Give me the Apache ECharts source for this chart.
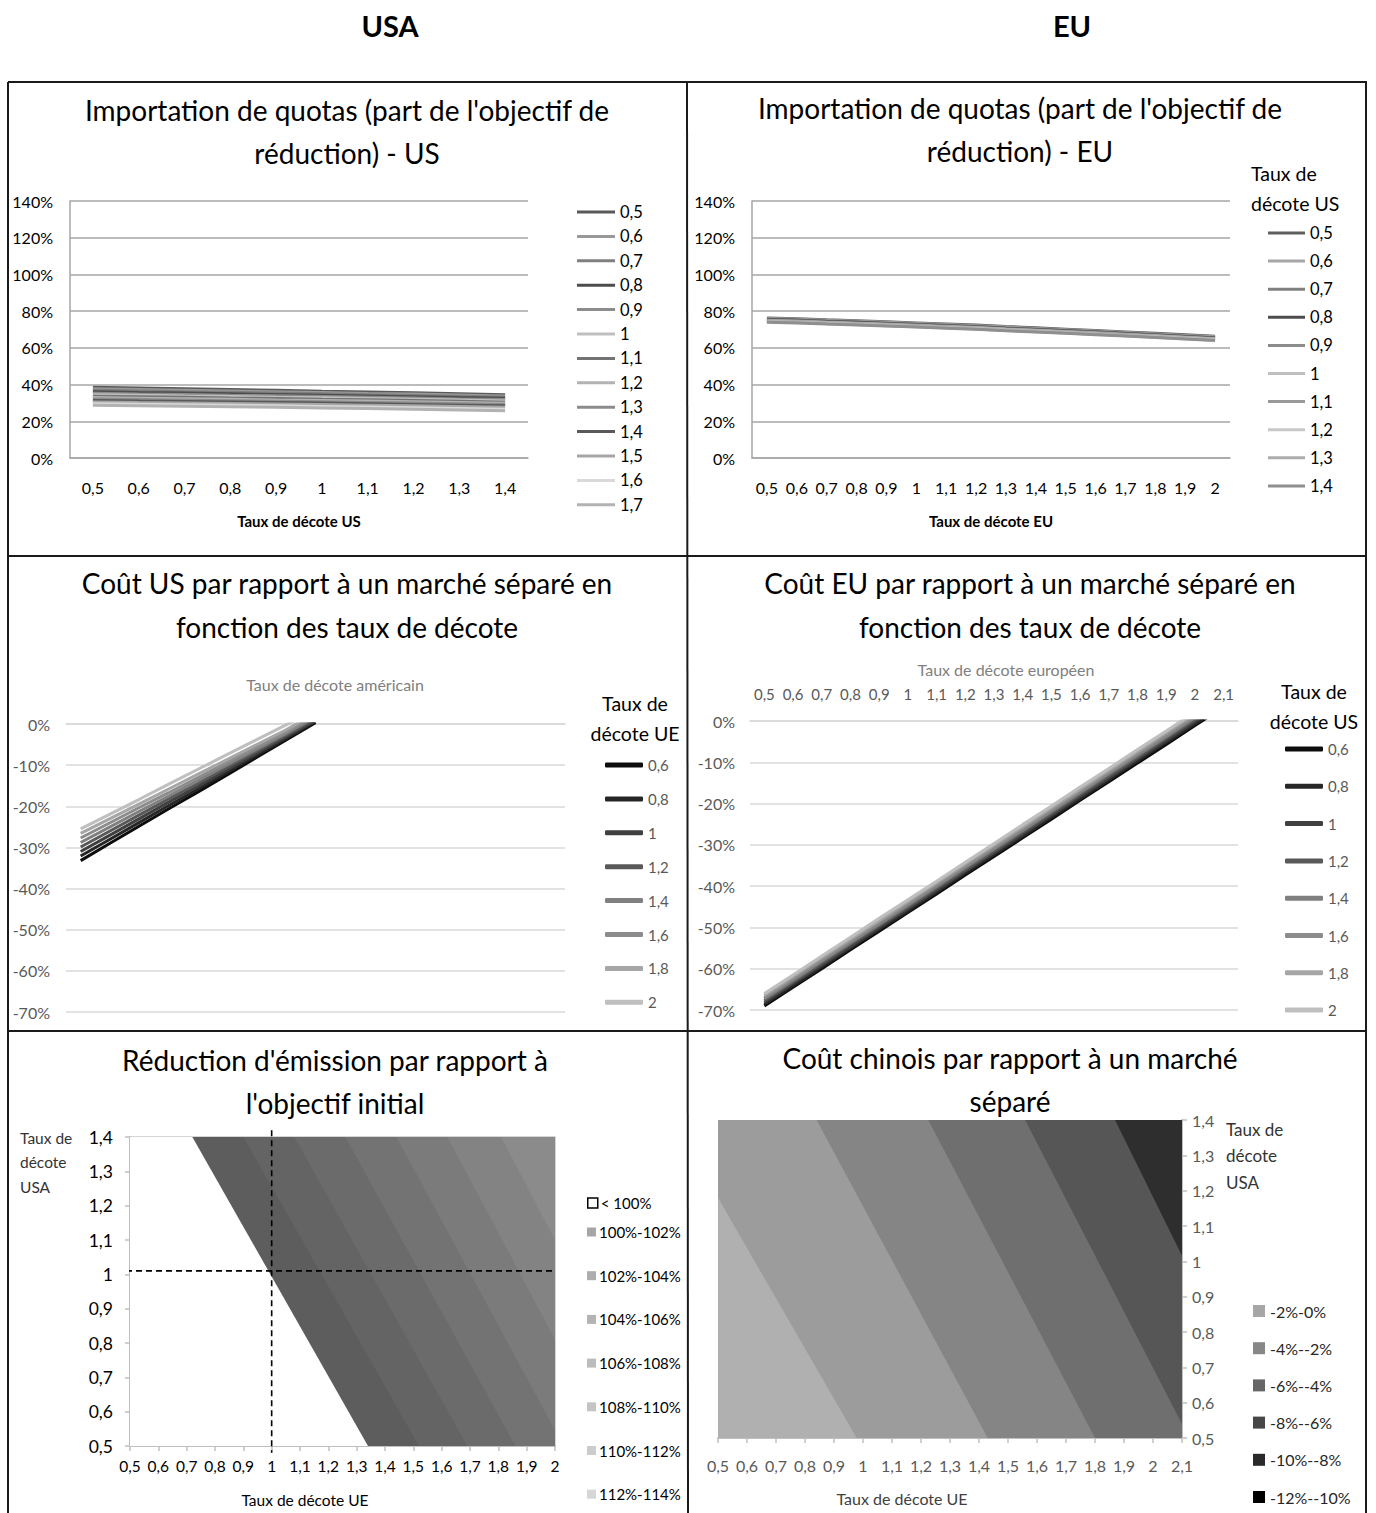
<!DOCTYPE html>
<html><head><meta charset="utf-8">
<script src="https://cdn.jsdelivr.net/npm/echarts@6/dist/echarts.min.js"></script>
<style>html,body{margin:0;padding:0;background:#fff}#c{width:1376px;height:1513px}</style>
</head><body><div id="c"></div>
<script>
const FONT = 'Lato, "Liberation Sans", sans-serif';

// ---------- Panel 1 : Importation de quotas - US ----------
const quotaUsRates = ['0,5','0,6','0,7','0,8','0,9','1','1,1','1,2','1,3','1,4'];
const quotaUsLegend = ['0,5','0,6','0,7','0,8','0,9','1','1,1','1,2','1,3','1,4','1,5','1,6','1,7'];
const quotaUsColors = ['#595959','#999999','#7f7f7f','#4d4d4d','#8c8c8c','#bfbfbf','#737373','#b2b2b2','#8c8c8c','#595959','#a6a6a6','#d9d9d9','#b2b2b2'];
const quotaUsValues = [
  [38.5,38.1,37.7,37.3,36.9,36.4,36.0,35.5,35.0,34.4],
  [37.7,37.3,36.9,36.5,36.1,35.7,35.2,34.8,34.3,33.8],
  [36.9,36.5,36.1,35.8,35.4,35.0,34.5,34.1,33.6,33.1],
  [36.1,35.7,35.4,35.0,34.6,34.2,33.8,33.4,32.9,32.5],
  [35.3,34.9,34.6,34.2,33.9,33.5,33.1,32.7,32.2,31.8],
  [34.5,34.2,33.8,33.5,33.1,32.8,32.4,32.0,31.6,31.1],
  [33.7,33.4,33.1,32.7,32.4,32.0,31.7,31.3,30.9,30.4],
  [32.9,32.6,32.3,32.0,31.6,31.3,31.0,30.6,30.2,29.8],
  [32.1,31.8,31.5,31.2,30.9,30.6,30.3,29.9,29.5,29.1],
  [31.3,31.0,30.8,30.5,30.2,29.9,29.6,29.2,28.8,28.4],
  [30.5,30.2,30.0,29.7,29.4,29.1,28.8,28.5,28.1,27.7],
  [29.6,29.3,29.0,28.7,28.4,28.1,27.8,27.4,27.0,26.6],
  [28.8,28.5,28.2,27.9,27.6,27.3,27.0,26.6,26.2,25.8]
];

// ---------- Panel 2 : Importation de quotas - EU ----------
const quotaEuRates = ['0,5','0,6','0,7','0,8','0,9','1','1,1','1,2','1,3','1,4','1,5','1,6','1,7','1,8','1,9','2'];
const quotaEuLegend = ['0,5','0,6','0,7','0,8','0,9','1','1,1','1,2','1,3','1,4'];
const quotaEuColors = ['#5f5f5f','#a6a6a6','#808080','#4d4d4d','#8c8c8c','#bfbfbf','#999999','#c8c8c8','#acacac','#8f8f8f'];
const quotaEuValues = [
  [76.3,75.9,75.3,74.8,74.2,73.6,73.0,72.4,71.6,70.9,70.2,69.5,68.7,67.9,67.1,66.3],
  [76.0,75.6,75.0,74.5,73.9,73.3,72.7,72.1,71.3,70.6,69.9,69.2,68.4,67.6,66.8,66.0],
  [75.7,75.3,74.7,74.2,73.6,73.0,72.4,71.8,71.0,70.3,69.6,68.9,68.1,67.3,66.5,65.7],
  [75.4,75.0,74.4,73.9,73.3,72.7,72.1,71.5,70.7,70.0,69.3,68.6,67.8,67.0,66.2,65.4],
  [75.1,74.7,74.1,73.6,73.0,72.4,71.8,71.2,70.4,69.7,69.0,68.3,67.5,66.7,65.9,65.1],
  [74.8,74.4,73.8,73.3,72.7,72.1,71.5,70.9,70.1,69.4,68.7,68.0,67.2,66.4,65.6,64.8],
  [74.6,74.2,73.6,73.1,72.5,71.9,71.3,70.7,69.9,69.2,68.5,67.8,67.0,66.2,65.4,64.6],
  [74.4,74.0,73.4,72.9,72.3,71.7,71.1,70.5,69.7,69.0,68.3,67.6,66.8,66.0,65.2,64.4],
  [74.2,73.8,73.2,72.7,72.1,71.5,70.9,70.3,69.5,68.8,68.1,67.4,66.6,65.8,65.0,64.2],
  [74.0,73.6,73.0,72.5,71.9,71.3,70.7,70.1,69.3,68.6,67.9,67.2,66.4,65.6,64.8,64.0]
];

// ---------- Panels 3 & 4 : Coût par rapport à un marché séparé ----------
const costRates = ['0,5','0,6','0,7','0,8','0,9','1','1,1','1,2','1,3','1,4','1,5','1,6','1,7','1,8','1,9','2','2,1'];
const costUsLegend = ['0,6','0,8','1','1,2','1,4','1,6','1,8','2'];
const costUsColors = ['#0d0d0d','#262626','#404040','#595959','#808080','#8c8c8c','#a6a6a6','#bfbfbf'];
const costUsValues = [
  [-33.2,-29.0,-24.8,-20.6,-16.5,-12.3,-8.1,-3.9,0.3],
  [-32.1,-28.0,-23.9,-19.8,-15.8,-11.7,-7.6,-3.5,0.6],
  [-31.0,-27.0,-23.0,-19.0,-15.1,-11.1,-7.1,-3.1,0.9],
  [-29.9,-26.0,-22.1,-18.2,-14.4,-10.5,-6.6,-2.7,1.3],
  [-28.8,-25.0,-21.2,-17.5,-13.7,-9.9,-6.1,-2.3,1.7],
  [-27.7,-24.0,-20.3,-16.7,-13.0,-9.3,-5.6,-1.9,2.2],
  [-26.6,-23.0,-19.4,-15.8,-12.2,-8.6,-5.0,-1.4,2.7],
  [-25.5,-21.9,-18.3,-14.6,-11.0,-7.4,-3.8,-0.2,3.4]
];
const costEuLegend = ['0,6','0,8','1','1,2','1,4','1,6','1,8','2'];
const costEuColors = ['#0d0d0d','#262626','#404040','#595959','#7f7f7f','#8c8c8c','#a6a6a6','#bfbfbf'];
const costEuValues = [
  [-69.0,-64.5,-60.0,-55.4,-50.9,-46.4,-41.9,-37.3,-32.8,-28.3,-23.8,-19.2,-14.7,-10.2,-5.7,-1.1,3.4],
  [-68.6,-64.1,-59.6,-55.0,-50.5,-46.0,-41.5,-36.9,-32.4,-27.9,-23.3,-18.8,-14.3,-9.7,-5.2,-0.7,3.9],
  [-68.1,-63.6,-59.1,-54.6,-50.0,-45.5,-41.0,-36.4,-31.9,-27.4,-22.8,-18.3,-13.8,-9.2,-4.7,-0.2,4.4],
  [-67.7,-63.2,-58.7,-54.1,-49.6,-45.1,-40.5,-36.0,-31.5,-26.9,-22.4,-17.8,-13.3,-8.8,-4.2,0.3,4.9],
  [-67.3,-62.8,-58.2,-53.7,-49.2,-44.6,-40.1,-35.5,-31.0,-26.5,-21.9,-17.4,-12.8,-8.3,-3.8,0.8,5.3],
  [-66.9,-62.3,-57.8,-53.3,-48.7,-44.2,-39.6,-35.1,-30.6,-26.0,-21.5,-16.9,-12.4,-7.8,-3.3,1.2,5.8],
  [-66.4,-61.9,-57.3,-52.8,-48.3,-43.7,-39.2,-34.6,-30.1,-25.6,-21.0,-16.5,-11.9,-7.4,-2.8,1.7,6.2],
  [-66.0,-61.5,-56.9,-52.4,-47.8,-43.3,-38.8,-34.2,-29.7,-25.1,-20.6,-16.0,-11.5,-6.9,-2.4,2.2,6.7]
];

// ---------- Panel 5 : Réduction d'émission (contour bands) ----------
// each band = region right of a boundary line running from (edgeTop, y=1.4) to (edgeBottom, y=0.5)
const reductionBands = ['< 100%','100%-102%','102%-104%','104%-106%','106%-108%','108%-110%','110%-112%','112%-114%'];
const reductionEdgeTop = [0.5, 0.72, 0.90, 1.08, 1.26, 1.44, 1.62, 1.81];
const reductionEdgeBottom = [0.5, 1.34, 1.52, 1.69, 1.86, 2.03, 2.20, 2.38];
const reductionPlotColors = ['#ffffff','#5d5d5d','#646464','#6b6b6b','#737373','#7b7b7b','#838383','#8b8b8b'];
const reductionLegendColors = ['#ffffff','#a6a6a6','#adadad','#b4b4b4','#bcbcbc','#c4c4c4','#cccccc','#d6d6d6'];
const refLineV = [[1, 1.42], [1, 0.48]];
const refLineH = [[0.38, 1.01], [2, 1.01]];

// ---------- Panel 6 : Coût chinois (contour bands) ----------
const chinaBands = ['-2%-0%','-4%--2%','-6%--4%','-8%--6%','-10%--8%','-12%--10%'];
const chinaEdgeTop = [0.5, 0.345, 0.84, 1.225, 1.559, 1.869];
const chinaEdgeBottom = [0.5, 0.978, 1.43, 1.80, 2.125, 2.41];
const chinaPlotColors = ['#b0b0b0','#9c9c9c','#858585','#6f6f6f','#565656','#2e2e2e'];
const chinaLegendColors = ['#a6a6a6','#878787','#666666','#474747','#2a2a2a','#000000'];

// ---------- helpers ----------
const lerpX = (a, b, x) => { const t = (x - a[0]) / (b[0] - a[0]); return [x, a[1] + t * (b[1] - a[1])]; };
const lerpY = (a, b, y) => { const t = (y - a[1]) / (b[1] - a[1]); return [a[0] + t * (b[0] - a[0]), y]; };
function clipPoly(pts, x0, x1, y0, y1) {
  const planes = [
    [p => p[0] >= x0 - 1e-9, (a, b) => lerpX(a, b, x0)],
    [p => p[0] <= x1 + 1e-9, (a, b) => lerpX(a, b, x1)],
    [p => p[1] >= y0 - 1e-9, (a, b) => lerpY(a, b, y0)],
    [p => p[1] <= y1 + 1e-9, (a, b) => lerpY(a, b, y1)]
  ];
  for (const [inside, inter] of planes) {
    const out = [];
    for (let i = 0; i < pts.length; i++) {
      const cur = pts[i], prev = pts[(i + pts.length - 1) % pts.length];
      const ci = inside(cur), pi = inside(prev);
      if (ci) { if (!pi) out.push(inter(prev, cur)); out.push(cur); }
      else if (pi) out.push(inter(prev, cur));
    }
    pts = out;
    if (!pts.length) break;
  }
  return pts;
}
function bandRenderer(xMin, xMax, yMin, yMax) {
  return function (params, api) {
    const xt = api.value(0), xb = api.value(1);
    const big = xMax + 10;
    const pts = clipPoly([[xt, yMax], [big, yMax], [big, yMin], [xb, yMin]], xMin, xMax, yMin, yMax);
    if (pts.length < 3) return null;
    return { type: 'polygon', silent: true, shape: { points: pts.map(p => api.coord(p)) }, style: { fill: api.visual('color') } };
  };
}
const comma = v => String(Math.round(v * 10) / 10).replace('.', ',');
const strip = n => n.split('|')[1];

// ---------- series ----------
const series = [];
quotaUsValues.forEach((row, i) => series.push({
  type: 'line', name: 'qu|' + quotaUsLegend[i], xAxisIndex: 0, yAxisIndex: 0, data: row,
  color: quotaUsColors[i], lineStyle: { width: 3, color: quotaUsColors[i] }, symbol: 'none', silent: true
}));
quotaEuValues.forEach((row, i) => series.push({
  type: 'line', name: 'qe|' + quotaEuLegend[i], xAxisIndex: 1, yAxisIndex: 1, data: row,
  color: quotaEuColors[i], lineStyle: { width: 3, color: quotaEuColors[i] }, symbol: 'none', silent: true
}));
costUsValues.forEach((row, i) => series.push({
  type: 'line', name: 'cu|' + costUsLegend[i], xAxisIndex: 2, yAxisIndex: 2, data: row,
  color: costUsColors[i], lineStyle: { width: 3, color: costUsColors[i] }, symbol: 'none', silent: true, clip: true
}));
costEuValues.forEach((row, i) => series.push({
  type: 'line', name: 'ce|' + costEuLegend[i], xAxisIndex: 4, yAxisIndex: 3, data: row,
  color: costEuColors[i], lineStyle: { width: 3, color: costEuColors[i] }, symbol: 'none', silent: true, clip: true
}));
reductionBands.forEach((n, i) => series.push({
  type: 'custom', name: 'rd|' + n, xAxisIndex: 6, yAxisIndex: 4, z: 2,
  color: reductionPlotColors[i], renderItem: bandRenderer(0.5, 2, 0.5, 1.4),
  data: [[reductionEdgeTop[i], reductionEdgeBottom[i]]], encode: { x: 0, y: 1 }, silent: true
}));
series.push({ type: 'line', xAxisIndex: 6, yAxisIndex: 4, data: refLineV, clip: false, symbol: 'none', z: 10, silent: true,
  lineStyle: { color: '#000', width: 1.6, type: [6, 4] } });
series.push({ type: 'line', xAxisIndex: 6, yAxisIndex: 4, data: refLineH, clip: false, symbol: 'none', z: 10, silent: true,
  lineStyle: { color: '#000', width: 1.6, type: [6, 4] } });
chinaBands.forEach((n, i) => series.push({
  type: 'custom', name: 'cn|' + n, xAxisIndex: 7, yAxisIndex: 5, z: 2,
  color: chinaPlotColors[i], renderItem: bandRenderer(0.5, 2.1, 0.5, 1.4),
  data: [[chinaEdgeTop[i], chinaEdgeBottom[i]]], encode: { x: 0, y: 1 }, silent: true
}));

// ---------- axes ----------
const lbl = (size, color, margin, extra) => Object.assign({ fontSize: size, color: color, margin: margin, fontFamily: FONT }, extra || {});
const gridBase = { outerBoundsMode: 'none', containLabel: false };
const grids = [
  Object.assign({ left: 70, top: 201, width: 458, height: 257 }, gridBase),
  Object.assign({ left: 752, top: 201, width: 478, height: 257 }, gridBase),
  Object.assign({ left: 66, top: 724, width: 499, height: 288 }, gridBase),
  Object.assign({ left: 750, top: 721, width: 488, height: 289 }, gridBase),
  Object.assign({ left: 130, top: 1137, width: 425, height: 309, show: true, borderColor: '#c8c8c8', borderWidth: 1.5, backgroundColor: '#fff' }, gridBase),
  Object.assign({ left: 718, top: 1120, width: 464, height: 318 }, gridBase)
];
const quotaXName = (name) => ({ name: name, nameLocation: 'middle', nameGap: 55,
  nameTextStyle: { fontSize: 15, fontWeight: 'bold', color: '#000', fontFamily: FONT } });
const xAxes = [
  Object.assign({ gridIndex: 0, type: 'category', data: quotaUsRates, boundaryGap: true,
    axisLine: { lineStyle: { color: '#a6a6a6', width: 1.5 } }, axisTick: { show: false },
    axisLabel: lbl(16, '#000', 21) }, quotaXName('Taux de décote US')),
  Object.assign({ gridIndex: 1, type: 'category', data: quotaEuRates, boundaryGap: true,
    axisLine: { lineStyle: { color: '#a6a6a6', width: 1.5 } }, axisTick: { show: false },
    axisLabel: lbl(16, '#000', 21, { interval: 0 }) }, quotaXName('Taux de décote EU')),
  { gridIndex: 2, type: 'category', data: costRates, position: 'top', boundaryGap: true,
    axisLine: { lineStyle: { color: '#d9d9d9', width: 1.5 } },
    axisTick: { length: 6, lineStyle: { color: '#d9d9d9', width: 1.5 } }, axisLabel: { show: false },
    name: 'Taux de décote américain', nameLocation: 'middle', nameGap: 32,
    nameTextStyle: { fontSize: 16, color: '#808080', fontFamily: FONT, padding: [0, 0, 0, 39] } },
  { gridIndex: 2, type: 'category', data: costRates, position: 'top', boundaryGap: true,
    axisLine: { show: false }, axisTick: { inside: true, length: 6, lineStyle: { color: '#d9d9d9', width: 1.5 } },
    axisLabel: { show: false } },
  { gridIndex: 3, type: 'category', data: costRates, position: 'top', boundaryGap: true,
    axisLine: { lineStyle: { color: '#d9d9d9', width: 1.5 } },
    axisTick: { length: 6, lineStyle: { color: '#d9d9d9', width: 1.5 } },
    axisLabel: lbl(15, '#595959', 20, { interval: 0 }),
    name: 'Taux de décote européen', nameLocation: 'middle', nameGap: 44,
    nameTextStyle: { fontSize: 16, color: '#808080', fontFamily: FONT, padding: [0, 0, 0, 24] } },
  { gridIndex: 3, type: 'category', data: costRates, position: 'top', boundaryGap: true,
    axisLine: { show: false }, axisTick: { inside: true, length: 6, lineStyle: { color: '#d9d9d9', width: 1.5 } },
    axisLabel: { show: false } },
  { gridIndex: 4, type: 'value', min: 0.5, max: 2, interval: 0.1,
    axisLine: { lineStyle: { color: '#bfbfbf', width: 2 } },
    axisTick: { length: 5, lineStyle: { color: '#bfbfbf', width: 1.5 } },
    axisLabel: lbl(15.5, '#000', 12, { formatter: comma, showMinLabel: true, showMaxLabel: true }), splitLine: { show: false },
    name: 'Taux de décote UE', nameLocation: 'middle', nameGap: 46,
    nameTextStyle: { fontSize: 15.5, color: '#000', fontFamily: FONT, padding: [0, 75, 0, 0] } },
  { gridIndex: 5, type: 'value', min: 0.5, max: 2.1, interval: 0.1,
    axisLine: { lineStyle: { color: '#bfbfbf', width: 2 } },
    axisTick: { length: 5, lineStyle: { color: '#bfbfbf', width: 1.5 } },
    axisLabel: lbl(16, '#595959', 19, { formatter: comma, showMinLabel: true, showMaxLabel: true }), splitLine: { show: false },
    name: 'Taux de décote UE', nameLocation: 'middle', nameGap: 52,
    nameTextStyle: { fontSize: 16, color: '#404040', fontFamily: FONT, padding: [0, 96, 0, 0] } }
];
const yAxes = [
  { gridIndex: 0, type: 'value', min: 0, max: 140, interval: 20,
    axisLine: { show: true, lineStyle: { color: '#a6a6a6', width: 1.5 } }, axisTick: { show: false },
    splitLine: { lineStyle: { color: '#a6a6a6', width: 1.5 } }, axisLabel: lbl(16, '#000', 17, { formatter: '{value}%' }) },
  { gridIndex: 1, type: 'value', min: 0, max: 140, interval: 20,
    axisLine: { show: true, lineStyle: { color: '#a6a6a6', width: 1.5 } }, axisTick: { show: false },
    splitLine: { lineStyle: { color: '#a6a6a6', width: 1.5 } }, axisLabel: lbl(16, '#000', 17, { formatter: '{value}%' }) },
  { gridIndex: 2, type: 'value', min: -70, max: 0, interval: 10,
    axisLine: { show: false }, axisTick: { show: false },
    splitLine: { lineStyle: { color: '#d9d9d9', width: 1.5 } }, axisLabel: lbl(16, '#595959', 16, { formatter: '{value}%' }) },
  { gridIndex: 3, type: 'value', min: -70, max: 0, interval: 10,
    axisLine: { show: false }, axisTick: { show: false },
    splitLine: { lineStyle: { color: '#d9d9d9', width: 1.5 } }, axisLabel: lbl(16, '#595959', 15, { formatter: '{value}%' }) },
  { gridIndex: 4, type: 'value', min: 0.5, max: 1.4, interval: 0.1,
    axisLine: { show: true, lineStyle: { color: '#bfbfbf', width: 2 } },
    axisTick: { show: true, length: 5, lineStyle: { color: '#bfbfbf', width: 1.5 } }, splitLine: { show: false },
    axisLabel: lbl(17.5, '#000', 17, { formatter: comma, showMinLabel: true, showMaxLabel: true }) },
  { gridIndex: 5, type: 'value', position: 'right', min: 0.5, max: 1.4, interval: 0.1,
    axisLine: { show: true, lineStyle: { color: '#bfbfbf', width: 2 } },
    axisTick: { show: true, length: 5, lineStyle: { color: '#bfbfbf', width: 1.5 } }, splitLine: { show: false },
    axisLabel: lbl(16, '#595959', 10, { formatter: comma, showMinLabel: true, showMaxLabel: true }) }
];

// ---------- legends ----------
const legendBase = { orient: 'vertical', padding: 0, selectedMode: false, formatter: strip, icon: 'rect' };
const legends = [
  Object.assign({ left: 577, top: 203.5, itemWidth: 38, itemHeight: 3, itemGap: 7.4,
    data: quotaUsLegend.map((n, i) => ({ name: 'qu|' + n, itemStyle: { color: quotaUsColors[i] } })),
    textStyle: { fontSize: 16.5, lineHeight: 16, color: '#000', fontFamily: FONT } }, legendBase),
  Object.assign({ left: 1268, top: 224.5, itemWidth: 37, itemHeight: 3, itemGap: 11.1,
    data: quotaEuLegend.map((n, i) => ({ name: 'qe|' + n, itemStyle: { color: quotaEuColors[i] } })),
    textStyle: { fontSize: 16.5, lineHeight: 16, color: '#000', fontFamily: FONT } }, legendBase),
  Object.assign({ left: 605, top: 757, itemWidth: 38, itemHeight: 5, itemGap: 17.9,
    data: costUsLegend.map((n, i) => ({ name: 'cu|' + n, itemStyle: { color: costUsColors[i] } })),
    textStyle: { fontSize: 15, lineHeight: 16, color: '#595959', fontFamily: FONT } }, legendBase, { icon: 'roundRect' }),
  Object.assign({ left: 1285, top: 741, itemWidth: 38, itemHeight: 5, itemGap: 21.3,
    data: costEuLegend.map((n, i) => ({ name: 'ce|' + n, itemStyle: { color: costEuColors[i] } })),
    textStyle: { fontSize: 15, lineHeight: 16, color: '#595959', fontFamily: FONT } }, legendBase, { icon: 'roundRect' }),
  Object.assign({ left: 587, top: 1195, itemWidth: 10, itemHeight: 10, itemGap: 10,
    data: [{ name: 'rd|' + reductionBands[0], itemStyle: { color: '#ffffff', borderColor: '#000', borderWidth: 1.5 } }],
    textStyle: { fontSize: 15, lineHeight: 16, color: '#000', fontFamily: FONT, padding: [0, 0, 0, -2] } }, legendBase),
  Object.assign({ left: 587, top: 1224, itemWidth: 9, itemHeight: 9, itemGap: 27.7,
    data: reductionBands.slice(1).map((n, i) => ({ name: 'rd|' + n, itemStyle: { color: reductionLegendColors[i + 1] } })),
    textStyle: { fontSize: 15, lineHeight: 16, color: '#000', fontFamily: FONT, padding: [0, 0, 0, -2] } }, legendBase),
  Object.assign({ left: 1253, top: 1303, itemWidth: 12, itemHeight: 12, itemGap: 21.2,
    data: chinaBands.map((n, i) => ({ name: 'cn|' + n, itemStyle: { color: chinaLegendColors[i] } })),
    textStyle: { fontSize: 16, lineHeight: 16, color: '#262626', fontFamily: FONT } }, legendBase)
];

// ---------- texts & frame ----------
const txt = (x, y, text, size, opts) => ({ type: 'text', x: x, y: y, silent: true, z: 50,
  style: Object.assign({ text: text, fill: '#000', fontSize: size, fontFamily: FONT,
    align: 'center', verticalAlign: 'middle', textAlign: 'center', textVerticalAlign: 'middle' }, opts || {}) });
const ln = (x1, y1, x2, y2) => ({ type: 'line', silent: true, z: 50, shape: { x1, y1, x2, y2 }, style: { stroke: '#1a1a1a', lineWidth: 2 } });
const graphics = [
  ln(8, 82, 1367, 82), ln(8, 82, 8, 1513), ln(1366, 82, 1366, 1513), ln(687, 82, 688, 1513),
  ln(8, 556, 1366, 556), ln(8, 1031, 1366, 1031),
  txt(390, 25, 'USA', 29, { fontWeight: 'bold' }),
  txt(1072, 25, 'EU', 29, { fontWeight: 'bold' }),
  txt(347, 131.5, "Importation de quotas (part de l'objectif de\nréduction) - US", 28, { lineHeight: 43 }),
  txt(1020, 129.5, "Importation de quotas (part de l'objectif de\nréduction) - EU", 28, { lineHeight: 43 }),
  txt(1251, 188, 'Taux de\ndécote US', 19.5, { lineHeight: 30, align: 'left', textAlign: 'left' }),
  txt(347, 605, 'Coût US par rapport à un marché séparé en\nfonction des taux de décote', 28, { lineHeight: 44 }),
  txt(1030, 605, 'Coût EU par rapport à un marché séparé en\nfonction des taux de décote', 28, { lineHeight: 44 }),
  txt(635, 718, 'Taux de\ndécote UE', 19.5, { lineHeight: 30 }),
  txt(1314, 706, 'Taux de\ndécote US', 19.5, { lineHeight: 30 }),
  txt(335, 1081.5, "Réduction d'émission par rapport à\nl'objectif initial", 28, { lineHeight: 43 }),
  txt(1010, 1079.5, 'Coût chinois par rapport à un marché\nséparé', 28, { lineHeight: 43 }),
  txt(20, 1162, 'Taux de\ndécote\nUSA', 15.5, { lineHeight: 24.5, align: 'left', textAlign: 'left', fill: '#333' }),
  txt(1226, 1155.5, 'Taux de\ndécote\nUSA', 17, { lineHeight: 26.5, align: 'left', textAlign: 'left', fill: '#333' })
];

const chart = echarts.init(document.getElementById('c'), null, { renderer: 'svg', width: 1376, height: 1513 });
chart.setOption({
  animation: false,
  backgroundColor: '#ffffff',
  textStyle: { fontFamily: FONT },
  tooltip: { show: false },
  grid: grids, xAxis: xAxes, yAxis: yAxes, legend: legends, series: series, graphic: graphics
});
</script></body></html>
